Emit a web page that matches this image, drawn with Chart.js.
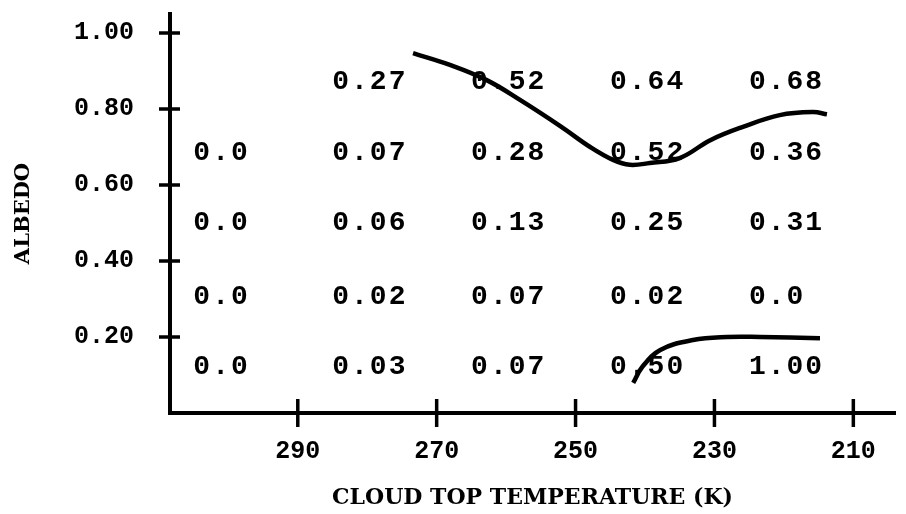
<!DOCTYPE html>
<html>
<head>
<meta charset="utf-8">
<script src="https://cdn.jsdelivr.net/npm/chart.js@4.4.1/dist/chart.umd.min.js"></script>
<style>
  html, body { margin: 0; padding: 0; background: #fff; }
  canvas { display: block; }
</style>
</head>
<body>
<canvas id="albedo-chart" width="906" height="514"></canvas>
<script>
// Temperature bins (K) and albedo rows of the typed table
const binTemps = [300, 280, 260, 240, 220];
const rowAlbedo = [0.87, 0.685, 0.50, 0.305, 0.12];
const tableRows = [
  ['', '0.27', '0.52', '0.64', '0.68'],
  ['0.0', '0.07', '0.28', '0.52', '0.36'],
  ['0.0', '0.06', '0.13', '0.25', '0.31'],
  ['0.0', '0.02', '0.07', '0.02', '0.0'],
  ['0.0', '0.03', '0.07', '0.50', '1.00'],
];

// Hand-drawn curves
const upperTemps = [273.4, 268.1, 262.8, 258.0, 252.2, 247.9, 244.6, 242.2, 239.3, 235.0, 230.6, 225.9, 220.6, 215.8, 213.8];
const upperAlbedo = [0.947, 0.916, 0.876, 0.824, 0.755, 0.700, 0.666, 0.653, 0.658, 0.671, 0.718, 0.753, 0.784, 0.792, 0.786];
const lowerTemps = [241.7, 240.4, 237.8, 233.1, 228.2, 223.4, 214.8];
const lowerAlbedo = [0.079, 0.121, 0.166, 0.192, 0.200, 0.200, 0.197];

// Axis ticks
const xTicks = [290, 270, 250, 230, 210];
const yTicks = [0.2, 0.4, 0.6, 0.8, 1.0];

const monoBold = (size) => ({ family: '"Liberation Mono", monospace', size, weight: 'bold' });

const crossTicks = {
  id: 'crossTicks',
  afterDraw(chart) {
    const { ctx, scales: { x, y } } = chart;
    ctx.save();
    ctx.strokeStyle = '#000';
    ctx.lineWidth = 3.5;
    yTicks.forEach((v) => {
      const py = y.getPixelForValue(v);
      ctx.beginPath();
      ctx.moveTo(x.left - 11, py);
      ctx.lineTo(x.left + 10, py);
      ctx.stroke();
    });
    xTicks.forEach((v) => {
      const px = x.getPixelForValue(v);
      ctx.beginPath();
      ctx.moveTo(px, y.bottom - 14);
      ctx.lineTo(px, y.bottom + 14);
      ctx.stroke();
    });

    // typed table values
    ctx.fillStyle = '#000';
    ctx.font = 'bold 28px "Liberation Mono", monospace';
    ctx.letterSpacing = '2px';
    ctx.textAlign = 'left';
    ctx.textBaseline = 'middle';
    tableRows.forEach((row, r) => {
      const py = y.getPixelForValue(rowAlbedo[r]);
      row.forEach((txt, c) => {
        if (!txt) return;
        const px = x.getPixelForValue(binTemps[c]);
        ctx.fillText(txt, px - 35, py);
      });
    });
    ctx.restore();
  },
};

const toPoints = (xs, ys) => xs.map((t, i) => ({ x: t, y: ys[i] }));

new Chart(document.getElementById('albedo-chart'), {
  type: 'line',
  data: {
    datasets: [
      { data: toPoints(upperTemps, upperAlbedo) },
      { data: toPoints(lowerTemps, lowerAlbedo) },
    ].map((d) => ({
      ...d,
      borderColor: '#000',
      borderWidth: 4.5,
      pointRadius: 0,
      tension: 0.4,
      fill: false,
    })),
  },
  options: {
    responsive: false,
    animation: false,
    layout: { padding: { top: 14, right: 11, left: 0, bottom: 0 } },
    plugins: { legend: { display: false }, tooltip: { enabled: false } },
    scales: {
      x: {
        type: 'linear',
        reverse: true,
        min: 204,
        max: 308.4,
        afterFit: (s) => { s.height = 101; s.paddingLeft = 0; s.paddingRight = 0; },
        afterBuildTicks: (s) => { s.ticks = xTicks.map((v) => ({ value: v })); },
        border: { color: '#000', width: 4 },
        grid: { display: false, drawTicks: false },
        ticks: {
          color: '#000',
          font: monoBold(25),
          padding: 24,
          maxRotation: 0,
          callback: (v) => String(v),
        },
        title: {
          display: true,
          text: 'CLOUD TOP TEMPERATURE (K)',
          color: '#000',
          font: { family: '"DejaVu Serif", serif', size: 22, weight: 'bold' },
          padding: { top: 0, bottom: 3 },
        },
      },
      y: {
        type: 'linear',
        min: 0,
        max: 1.05,
        afterFit: (s) => { s.width = 170; s.paddingTop = 0; s.paddingBottom = 0; },
        afterBuildTicks: (s) => { s.ticks = yTicks.map((v) => ({ value: v })); },
        border: { color: '#000', width: 4 },
        grid: { display: false, drawTicks: false },
        ticks: {
          color: '#000',
          font: monoBold(25),
          padding: 36,
          callback: (v) => v.toFixed(2),
        },
        title: {
          display: true,
          text: 'ALBEDO',
          color: '#000',
          font: { family: '"DejaVu Serif", serif', size: 21, weight: 'bold' },
          padding: { top: 11, bottom: 0 },
        },
      },
    },
  },
  plugins: [crossTicks],
});
</script>
</body>
</html>
